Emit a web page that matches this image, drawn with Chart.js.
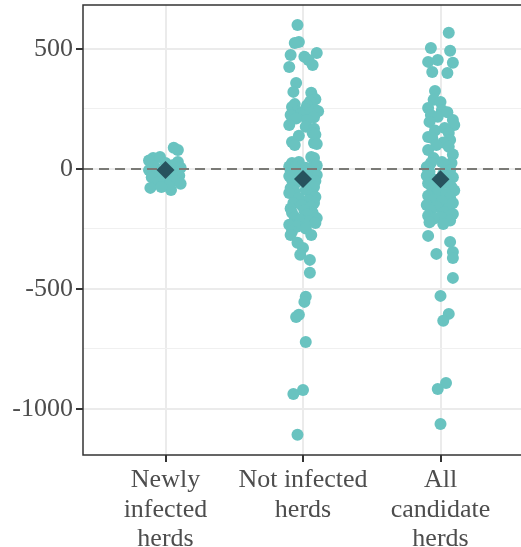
<!DOCTYPE html>
<html>
<head>
<meta charset="utf-8">
<script src="https://cdn.jsdelivr.net/npm/chart.js@4.4.0/dist/chart.umd.min.js"></script>
<style>
  html, body { margin: 0; padding: 0; background: #fff; overflow: hidden; }
  /* chart.js keeps a few px above and right of the plot, so shift/widen the canvas */
  #wrap { width: 532px; height: 551px; margin-top: -4px; }
</style>
</head>
<body>
<div id="wrap"><canvas id="herds" width="532" height="551"></canvas></div>
<script>
// categories and where they sit on the x axis
var categories = [["Newly", "infected", "herds"], ["Not infected", "herds"], ["All", "candidate", "herds"]];
var categoryPos = [1, 2, 3];

// jittered points: value and horizontal jitter (in category units)
var newlyY = [88, 79, 46, 50, 29, 35, 25, 15, 10, 5, -5, -10, -15, -20, -28, -35, -40, -48, -55, -62, -70, -79, -88, -75];
var newlyJitter = [0.06, 0.09, -0.09, -0.04, 0.09, -0.12, 0.0, 0.05, -0.08, 0.11, -0.12, 0.03, 0.09, -0.06, 0.1, -0.1, 0.0, 0.07, -0.05, 0.11, 0.02, -0.11, 0.04, -0.03];

var notInfY = [600, 529, 525, 483, 475, 467, 454, 433, 425, 358, 321, 317, 300, 290, 280, 270, 265, 258, 250, 246,
  240, 238, 232, 228, 225, 221, 215, 210, 204, 183, 176, 167, 150, 142, 138, 112, 108, 104, 100, 50,
  46, 29, 25, 17, 14, 10, 5, 2, -8, -12, -20, -25, -30, -38, -46, -50, -58, -65, -75, -80,
  -88, -95, -100, -108, -117, -122, -130, -142, -142, -150, -158, -165, -172, -183, -183, -190, -200, -205, -212, -218,
  -225, -233, -240, -248, -260, -275, -275, -308, -329, -358, -379, -433, -533, -554, -608, -617, -721, -921, -938, -1108];
var notInfJitter = [-0.04, -0.03, -0.06, 0.10, -0.09, 0.01, 0.04, 0.07, -0.10, -0.05, -0.07, 0.06, 0.07, 0.09, 0.05, -0.06, 0.03, -0.08, 0.02, 0.09,
  0.11, -0.04, 0.05, -0.02, -0.09, 0.00, 0.08, -0.05, 0.03, -0.10, 0.02, 0.08, 0.07, 0.09, -0.03, -0.08, 0.08, 0.10, -0.06, 0.06,
  0.08, -0.03, -0.08, 0.08, 0.10, -0.10, 0.02, -0.06, -0.09, 0.06, -0.02, 0.10, -0.10, 0.03, -0.08, 0.09, -0.05, 0.05, 0.08, -0.09,
  0.02, -0.06, -0.10, 0.07, 0.09, -0.03, 0.04, -0.07, 0.08, -0.01, 0.06, -0.09, 0.01, -0.08, 0.07, 0.03, -0.06, 0.10, -0.02, 0.05,
  0.09, -0.10, -0.04, 0.02, -0.08, -0.09, 0.06, -0.04, 0.00, -0.02, 0.05, 0.05, 0.02, 0.01, -0.03, -0.05, 0.02, 0.00, -0.07, -0.04];

var allY = [567, 504, 492, 454, 446, 442, 404, 400, 325, 288, 279, 254, 246, 236, 225, 217, 204, 196, 183, 170,
  160, 150, 133, 129, 121, 110, 100, 92, 79, 60, 45, 29, 25, 25, 15, 8, -5, -12, -20, -28,
  -35, -45, -52, -60, -68, -75, -82, -90, -98, -105, -112, -120, -128, -135, -142, -150, -158, -165, -172, -180,
  -188, -195, -200, -208, -215, -222, -230, -279, -304, -346, -354, -371, -454, -529, -604, -633, -892, -917, -1063];
var allJitter = [0.06, -0.07, 0.07, -0.02, -0.09, 0.09, -0.06, 0.05, -0.04, -0.05, 0.00, -0.09, 0.01, 0.05, -0.07, -0.02, 0.09, -0.08, 0.10, 0.03,
  -0.04, 0.06, -0.09, -0.06, 0.07, 0.02, -0.03, 0.06, -0.09, 0.09, -0.05, 0.01, -0.07, 0.08, 0.04, -0.10, 0.07, -0.08, 0.02, -0.10,
  0.09, -0.04, 0.05, -0.09, 0.00, 0.08, -0.06, 0.10, -0.02, 0.04, -0.09, 0.07, -0.05, 0.01, 0.09, -0.10, -0.03, 0.06, -0.07, 0.03,
  0.09, -0.09, 0.00, -0.05, 0.07, -0.08, 0.02, -0.09, 0.07, 0.09, -0.03, 0.09, 0.09, 0.00, 0.06, 0.02, 0.04, -0.02, 0.00];

// group means (diamonds)
var meanY = [-4, -42, -43];
var refLine = 0;

var yMajorTicks = [-1000, -500, 0, 500];
var yMinorTicks = [-750, -250, 250];
var yMin = -1192, yMax = 683;
var xMin = 0.4, xMax = 3.6;

function jitterPoints(pos, ys, js) {
  return ys.map(function (y, i) { return { x: pos + js[i], y: y }; });
}

var pointStyle = { pointRadius: 6, pointHoverRadius: 6, backgroundColor: "#69c3c0", borderWidth: 0, order: 2 };

var panelBorder = {
  id: "panelBorder",
  afterDatasetsDraw: function (chart) {
    var a = chart.chartArea, ctx = chart.ctx;
    ctx.save();
    ctx.strokeStyle = "#333333";
    ctx.lineWidth = 1.5;
    ctx.strokeRect(a.left, a.top, a.right - a.left, a.bottom - a.top);
    ctx.restore();
  }
};

Chart.defaults.font.family = "'Liberation Serif', 'Times New Roman', serif";

new Chart("herds", {
  type: "scatter",
  data: {
    datasets: [
      Object.assign({ data: jitterPoints(categoryPos[0], newlyY, newlyJitter) }, pointStyle),
      Object.assign({ data: jitterPoints(categoryPos[1], notInfY, notInfJitter) }, pointStyle),
      Object.assign({ data: jitterPoints(categoryPos[2], allY, allJitter) }, pointStyle),
      {
        data: [{ x: xMin, y: refLine }, { x: xMax, y: refLine }],
        showLine: true, pointRadius: 0, borderColor: "#7a7a76", borderWidth: 2,
        borderDash: [10, 6], order: 1
      },
      {
        data: meanY.map(function (m, i) { return { x: categoryPos[i], y: m }; }),
        pointStyle: "rectRot", pointRadius: 9, pointHoverRadius: 9,
        backgroundColor: "#27535e", borderWidth: 0, order: 0
      }
    ]
  },
  options: {
    responsive: false,
    devicePixelRatio: 1,
    animation: false,
    layout: { padding: 0 },
    plugins: { legend: { display: false }, tooltip: { enabled: false } },
    scales: {
      x: {
        type: "linear", min: xMin, max: xMax,
        afterBuildTicks: function (scale) {
          scale.ticks = categoryPos.map(function (v) { return { value: v }; });
        },
        afterFit: function (scale) {
          scale.height = 92;
          scale.paddingLeft = 0; scale.paddingRight = 0;
        },
        border: { display: false },
        grid: { color: "#ebebeb", lineWidth: 2, tickColor: "#333333", tickLength: 7, tickWidth: 2 },
        ticks: {
          autoSkip: false, maxRotation: 0, padding: 4, color: "#4d4d4d",
          font: { size: 26, lineHeight: 1.12 },
          callback: function (v, i) { return categories[i]; }
        }
      },
      y: {
        min: yMin, max: yMax,
        afterBuildTicks: function (scale) {
          scale.ticks = yMajorTicks.concat(yMinorTicks).sort(function (a, b) { return a - b; })
            .map(function (v) { return { value: v }; });
        },
        afterFit: function (scale) {
          scale.width = 83;
          scale.paddingTop = 0; scale.paddingBottom = 0;
        },
        border: { display: false },
        grid: {
          color: function (c) { return c.tick && yMajorTicks.indexOf(c.tick.value) >= 0 ? "#ebebeb" : "#f0f0f0"; },
          lineWidth: function (c) { return c.tick && yMajorTicks.indexOf(c.tick.value) >= 0 ? 2 : 1; },
          tickColor: function (c) { return c.tick && yMajorTicks.indexOf(c.tick.value) >= 0 ? "#333333" : "rgba(0,0,0,0)"; },
          tickLength: 7, tickWidth: 2
        },
        ticks: {
          padding: 3, color: "#4d4d4d", font: { size: 26 },
          callback: function (v) { return yMajorTicks.indexOf(v) >= 0 ? String(v) : ""; }
        }
      }
    }
  },
  plugins: [panelBorder]
});
</script>
</body>
</html>
